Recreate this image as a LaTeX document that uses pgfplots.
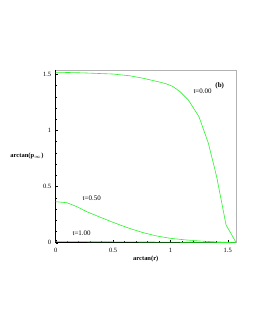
\documentclass[border=0pt]{standalone}
\usepackage{pgfplots}
\pgfplotsset{compat=1.18}
\usepackage{fontspec}
\setmainfont{Liberation Serif}
\definecolor{mgreen}{RGB}{40,245,40}
\begin{document}
\begin{tikzpicture}[x=1bp,y=1bp]
\path[use as bounding box] (0,0) rectangle (255,330);
\begin{axis}[
  at={(55.7bp,87.3bp)}, anchor=south west,
  scale only axis, width=180.2bp, height=172.7bp,
  xmin=0, xmax=1.5708, ymin=0, ymax=1.538,
  xtick={0,0.5,1,1.5}, ytick={0,0.5,1,1.5},
  xticklabels={0,0.5,1,1.5}, yticklabels={0,0.5,1,1.5},
  minor tick num=4,
  tick pos=left,
  major tick length=2.5bp, minor tick length=1.5bp,
  tick style={black, line width=0.4pt},
  axis line style={draw=gray!60, line width=0.6pt},
  ticklabel style={font=\fontsize{6.5}{7}\selectfont},
  /pgf/number format/assume math mode=true,
  xticklabel style={yshift=-2bp},
  yticklabel style={xshift=-1bp},
  clip=false,
]
\draw[black, line width=0.6pt] (rel axis cs:0,1) -- (rel axis cs:0,0) -- (rel axis cs:1,0);
\addplot[mgreen, line width=0.6pt] coordinates {
(0,1.517) (0.1,1.516) (0.25,1.512) (0.5,1.502) (0.65,1.486) (0.764,1.464) (0.9,1.432) (0.96,1.416) (1.02,1.392) (1.084,1.345) (1.156,1.271) (1.249,1.122) (1.331,0.885) (1.403,0.588) (1.485,0.158) (1.5708,0.005)};
\addplot[mgreen, line width=0.6pt] coordinates {
(0,0.365) (0.097,0.356) (0.18,0.323) (0.271,0.276) (0.4,0.222) (0.508,0.178) (0.65,0.125) (0.764,0.089) (0.88,0.060) (1.0,0.039) (1.13,0.025) (1.256,0.015) (1.4,0.007) (1.5708,0.002)};
\addplot[mgreen, line width=0.6pt] coordinates {
(0,0.010) (0.5,0.008) (1.0,0.005) (1.3,0.003) (1.5708,0.001)};
\node[font=\fontsize{7}{8}\selectfont] at (axis cs:1.28,1.35) {t=0.00};
\node[font=\fontsize{7}{8}\selectfont\bfseries] at (axis cs:1.43,1.40) {(b)};
\node[font=\fontsize{7}{8}\selectfont] at (axis cs:0.314,0.395) {t=0.50};
\node[font=\fontsize{7}{8}\selectfont] at (axis cs:0.226,0.084) {t=1.00};
\node[font=\fontsize{6.5}{7}\selectfont\bfseries] at (axis cs:0.785,-0.146) {arctan(r)};
\node[font=\fontsize{6.5}{7}\selectfont\bfseries] at (axis cs:-0.25,0.77) {arctan(p$_{\scriptscriptstyle\infty}$)};
\end{axis}
\end{tikzpicture}
\end{document}
